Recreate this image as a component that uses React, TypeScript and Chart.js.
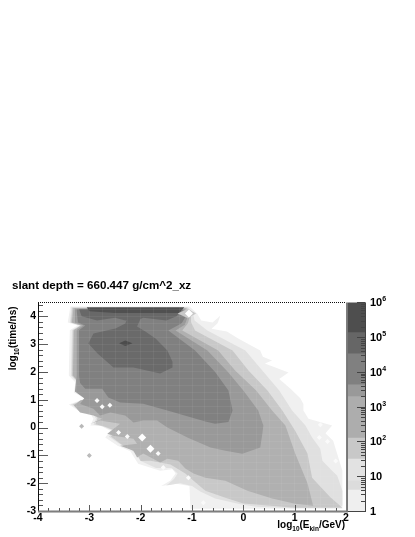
import React, { useEffect, useRef } from "react";
import { Chart, registerables } from "chart.js";

Chart.register(...registerables);

type P = [number, number];

const titleText = "slant depth = 660.447 g/cm^2_xz";
const xRange = [-4, 2];
const yRange = [-3, 4.5];
const xMajor = [-4, -3, -2, -1, 0, 1, 2];
const yMajor = [-3, -2, -1, 0, 1, 2, 3, 4];
const xGridValues = [-4, -3.75, -3.5, -3.25, -3, -2.75, -2.5, -2.25, -2, -1.75, -1.5, -1.25, -1, -0.75, -0.5, -0.25, 0, 0.25, 0.5, 0.75, 1, 1.25, 1.5, 1.75, 2];
const yGridValues = [-3, -2.75, -2.5, -2.25, -2, -1.75, -1.5, -1.25, -1, -0.75, -0.5, -0.25, 0, 0.25, 0.5, 0.75, 1, 1.25, 1.5, 1.75, 2, 2.25, 2.5, 2.75, 3, 3.25, 3.5, 3.75, 4, 4.25, 4.5];
const xMinor = [-3.8, -3.6, -3.4, -3.2, -2.8, -2.6, -2.4, -2.2, -1.8, -1.6, -1.4, -1.2, -0.8, -0.6, -0.4, -0.2, 0.2, 0.4, 0.6, 0.8, 1.2, 1.4, 1.6, 1.8];
const yMinor = [-2.8, -2.6, -2.4, -2.2, -1.8, -1.6, -1.4, -1.2, -0.8, -0.6, -0.4, -0.2, 0.2, 0.4, 0.6, 0.8, 1.2, 1.4, 1.6, 1.8, 2.2, 2.4, 2.6, 2.8, 3.2, 3.4, 3.6, 3.8, 4.2, 4.4];

const contourF0: P[] = [[-3.37,4.35],[-1.05,4.35],[-0.9,4.1],[-0.82,3.85],[-0.6,3.78],[-0.45,4.02],[-0.5,3.75],[-0.62,3.55],[-0.32,3.45],[-0.1,3.2],[0.33,2.77],[0.38,2.55],[0.56,2.41],[0.42,2.3],[0.88,1.98],[0.7,1.75],[0.92,1.4],[1.11,1.05],[1.17,0.85],[1.17,0.61],[1.27,0.32],[1.73,0.07],[1.6,-0.2],[1.75,-0.47],[1.87,-1.19],[1.93,-1.55],[1.93,-2.92],[-1.03,-2.92],[-1.05,-2.1],[-1.3,-2.02],[-1.6,-2.1],[-1.42,-1.9],[-1.32,-1.65],[-1.38,-1.5],[-1.62,-1.55],[-2.05,-1.3],[-2.15,-1.0],[-2.2,-0.85],[-2.45,-0.65],[-2.69,-0.36],[-2.59,-0.11],[-2.79,0.07],[-2.98,0.07],[-2.92,0.32],[-2.98,0.5],[-3.22,0.61],[-3.4,0.83],[-3.08,1.04],[-3.3,1.26],[-3.27,1.62],[-3.4,1.87],[-3.38,3.5],[-3.23,3.67],[-3.42,3.78]];
const contourE0: P[] = [[-3.35,4.33],[-1.08,4.33],[-0.98,4.1],[-0.95,3.85],[-0.7,3.49],[0.04,2.77],[0.37,2.05],[0.7,1.33],[0.95,0.61],[1.21,0.07],[1.34,-0.36],[1.5,-0.76],[1.54,-1.19],[1.73,-1.55],[1.83,-1.73],[1.93,-2.27],[1.93,-2.81],[1.0,-2.9],[0.25,-2.85],[-0.06,-2.76],[-0.55,-2.55],[-0.84,-2.3],[-1.0,-2.1],[-1.23,-2.0],[-1.5,-2.08],[-1.35,-1.85],[-1.28,-1.65],[-1.4,-1.45],[-1.7,-1.45],[-2.0,-1.2],[-2.1,-0.95],[-2.2,-0.78],[-2.4,-0.6],[-2.62,-0.33],[-2.52,-0.12],[-2.75,0.05],[-2.92,0.1],[-2.87,0.33],[-2.95,0.55],[-3.2,0.65],[-3.36,0.83],[-3.05,1.04],[-3.26,1.26],[-3.23,1.62],[-3.36,1.87],[-3.34,3.5],[-3.19,3.67],[-3.38,3.78]];
const contourC8: P[] = [[-3.33,4.31],[-1.1,4.31],[-1.02,4.05],[-1.02,3.8],[-0.94,3.49],[-0.21,2.77],[0.1,2.05],[0.47,1.33],[0.76,0.61],[1.01,-0.11],[1.25,-0.93],[1.34,-1.8],[1.69,-2.5],[1.93,-2.88],[1.01,-2.88],[0,-2.73],[-0.35,-2.52],[-0.74,-2.27],[-0.97,-1.91],[-1.13,-1.65],[-1.42,-1.33],[-1.81,-1.19],[-2.0,-1.2],[-2.08,-0.92],[-2.17,-0.8],[-2.38,-0.6],[-2.58,-0.32],[-2.48,-0.12],[-2.72,0.05],[-2.88,0.12],[-2.84,0.34],[-2.92,0.57],[-3.18,0.67],[-3.32,0.83],[-3.03,1.04],[-3.24,1.26],[-3.21,1.62],[-3.34,1.87],[-3.32,3.5],[-3.17,3.67],[-3.36,3.78]];
const contourB0: P[] = [[-3.31,4.29],[-1.12,4.29],[-1.04,4.0],[-1.08,3.75],[-1.19,3.49],[-0.49,2.77],[-0.16,2.05],[0.25,1.33],[0.56,0.61],[0.82,0.07],[1.01,-0.93],[1.25,-2.0],[1.36,-2.81],[1.01,-2.74],[0.56,-2.55],[0.08,-2.27],[-0.35,-1.91],[-0.74,-1.8],[-0.97,-1.65],[-1.13,-1.47],[-1.27,-1.19],[-1.48,-1.12],[-1.62,-1.26],[-1.95,-0.93],[-2.07,-1.08],[-2.14,-0.83],[-2.4,-0.65],[-2.07,-0.58],[-2.14,-0.4],[-2.53,-0.29],[-2.65,-0.22],[-2.4,0.14],[-2.79,0.25],[-2.98,0.14],[-2.75,0.32],[-2.92,0.43],[-3.18,0.54],[-3.3,0.79],[-3.18,0.97],[-3.05,1.04],[-3.22,1.26],[-3.2,1.62],[-3.32,1.87],[-3.3,3.5],[-3.16,3.67],[-3.34,3.78]];
const contourA0: P[] = [[-3.28,4.27],[-1.15,4.27],[-1.08,4.0],[-1.14,3.7],[-1.32,3.49],[-0.7,2.77],[-0.3,2.0],[0,1.33],[0.29,0.61],[0.39,0.07],[0.37,-0.22],[0.33,-0.72],[-0.02,-0.94],[-0.35,-0.83],[-0.64,-0.72],[-1.09,-0.36],[-1.48,0],[-1.68,0.25],[-1.95,0.25],[-2.14,0.18],[-2.3,0.43],[-2.59,0.54],[-2.79,0.43],[-2.92,0.68],[-3.18,0.85],[-3.1,1.05],[-3.28,1.3],[-3.25,1.87],[-3.25,3.5],[-3.12,3.67],[-3.28,3.78]];
const contour80: P[] = [[-3.25,4.25],[-1.18,4.25],[-1.12,4.0],[-1.2,3.75],[-1.46,3.49],[-0.94,2.77],[-0.55,2.0],[-0.29,1.33],[-0.21,0.61],[-0.29,0.2],[-0.55,0.14],[-0.74,0.22],[-1.48,0.61],[-1.95,0.86],[-2.4,0.9],[-2.63,1.08],[-2.75,1.4],[-3.08,1.4],[-3.18,1.6],[-3.2,1.85],[-3.2,3.5],[-3.08,3.67],[-3.22,3.78]];
const contourCentre: P[] = [[-3.02,3.02],[-2.92,3.38],[-2.49,3.56],[-2.3,3.74],[-2.25,3.95],[-2.0,3.92],[-2.07,3.63],[-1.91,3.45],[-1.71,3.2],[-1.48,2.77],[-1.38,2.37],[-1.38,2.16],[-1.62,1.94],[-2.14,2.16],[-2.53,2.16],[-2.84,2.66]];
const contourTop: P[] = [[-3.2,4.25],[-1.2,4.25],[-1.3,4.0],[-1.5,3.85],[-1.95,3.95],[-2.0,3.9],[-2.3,3.85],[-2.5,3.95],[-2.85,3.85],[-3.15,4.0]];
const contourPeak: P[] = [[-3.05,4.33],[-1.15,4.33],[-1.25,4.12],[-1.6,4.12],[-2.5,4.12],[-3.0,4.18]];
const contourSpot: P[] = [[-2.42,3.03],[-2.3,3.13],[-2.16,3.03],[-2.3,2.93]];
const contourHalo: P[] = [[-1.28,4.1],[-1.08,4.27],[-0.92,4.1],[-1.08,3.93]];

const whiteHoles: P[] = [[-2.85,0.97],[-2.75,0.75],[-2.6,0.8],[-2.43,-0.18],[-2.26,-0.32],[-1.66,-0.93],[-1.56,-1.44],[-1.07,-1.8],[-0.78,-2.7],[1.5,0.1],[1.48,-0.36],[1.64,-0.5],[1.8,-1.2]];
const largeHoles: P[] = [[-1.97,-0.36],[-1.81,-0.76],[-1.06,4.1]];
const greyDots: P[] = [[-3.15,0.05],[-3,-1]];

const levels: { points: P[]; color: string }[] = [
  { points: contourF0, color: "#f0f0f0" },
  { points: contourE0, color: "#e0e0e0" },
  { points: contourC8, color: "#c8c8c8" },
  { points: contourB0, color: "#b0b0b0" },
  { points: contourA0, color: "#999999" },
  { points: contour80, color: "#808080" },
  { points: contourCentre, color: "#6a6a6a" },
  { points: contourTop, color: "#686868" },
  { points: contourPeak, color: "#505050" },
  { points: contourSpot, color: "#4c4c4c" },
  { points: contourHalo, color: "#c8c8c8" },
];

const colorBands: [number, number][] = [[1, 4], [4, 7.3], [7.3, 31], [31, 126], [126, 1950], [1950, 4270], [4270, 33000], [33000, 135000], [135000, 1000000]];
const colorBandColors = ["#efefef", "#dcdcdc", "#e2e2e2", "#c8c8c8", "#adadad", "#999999", "#808080", "#666666", "#4e4e4e"];
const colorMajor = [1, 10, 100, 1000, 10000, 100000, 1000000];
const colorMinor = [2,3,4,5,6,7,8,9,20,30,40,50,60,70,80,90,200,300,400,500,600,700,800,900,2000,3000,4000,5000,6000,7000,8000,9000,20000,30000,40000,50000,60000,70000,80000,90000,200000,300000,400000,500000,600000,700000,800000,900000];
const colorLabels: [string, string][] = [["1", ""], ["10", ""], ["10", "2"], ["10", "3"], ["10", "4"], ["10", "5"], ["10", "6"]];

const FONT = "'Liberation Sans', Arial, sans-serif";

const framePlugin = {
  id: "rootFrame",
  afterDatasetsDraw(chart: any) {
    const { ctx, chartArea: a, scales } = chart;
    const x = scales.x, y = scales.y;
    ctx.save();
    ctx.strokeStyle = "#555";
    ctx.lineWidth = 1;
    ctx.beginPath();
    for (const v of xMajor) { const p = Math.round(x.getPixelForValue(v)) + 0.5; ctx.moveTo(p, a.bottom); ctx.lineTo(p, a.bottom - 6); }
    for (const v of xMinor) { const p = Math.round(x.getPixelForValue(v)) + 0.5; ctx.moveTo(p, a.bottom); ctx.lineTo(p, a.bottom - 3); }
    for (const v of yMajor) { const p = Math.round(y.getPixelForValue(v)) + 0.5; ctx.moveTo(a.left, p); ctx.lineTo(a.left + 10, p); }
    for (const v of yMinor) { const p = Math.round(y.getPixelForValue(v)) + 0.5; ctx.moveTo(a.left, p); ctx.lineTo(a.left + 5, p); }
    ctx.stroke();
    ctx.strokeStyle = "#000";
    ctx.beginPath(); ctx.moveTo(a.left + 0.5, a.top); ctx.lineTo(a.left + 0.5, a.bottom); ctx.stroke();
    ctx.setLineDash([1, 1]);
    ctx.beginPath(); ctx.moveTo(a.left, Math.round(a.top) + 0.5); ctx.lineTo(a.right, Math.round(a.top) + 0.5); ctx.stroke();
    ctx.setLineDash([]);
    ctx.strokeStyle = "#777";
    ctx.lineWidth = 2;
    ctx.beginPath(); ctx.moveTo(a.left, a.bottom + 0.5); ctx.lineTo(a.right + 1, a.bottom + 0.5); ctx.lineTo(a.right + 1, a.top); ctx.stroke();
    ctx.restore();
  },
  afterDraw(chart: any) {
    const { ctx, chartArea: a } = chart;
    ctx.save();
    ctx.fillStyle = "#000";
    ctx.textBaseline = "alphabetic";
    const xParts: [string, boolean][] = [["log", false], ["10", true], ["(E", false], ["kin", true], ["/GeV)", false]];
    const width = (parts: [string, boolean][]) => parts.reduce((w, [t, sub]) => {
      ctx.font = `bold ${sub ? 6.5 : 10}px ${FONT}`;
      return w + ctx.measureText(t).width;
    }, 0);
    const run = (parts: [string, boolean][], sx: number, sy: number) => {
      let cx = sx;
      for (const [t, sub] of parts) {
        ctx.font = `bold ${sub ? 6.5 : 10}px ${FONT}`;
        ctx.fillText(t, cx, sy + (sub ? 3 : 0));
        cx += ctx.measureText(t).width;
      }
    };
    ctx.textAlign = "left";
    run(xParts, a.right - 1 - width(xParts), 528);
    const yParts: [string, boolean][] = [["log", false], ["10", true], ["(time/ns)", false]];
    ctx.translate(16, a.top + 4);
    ctx.rotate(-Math.PI / 2);
    run(yParts, -width(yParts), 0);
    ctx.restore();
  },
};

const colorPlugin = {
  id: "colorAxis",
  afterDatasetsDraw(chart: any) {
    const { ctx, chartArea: a, scales } = chart;
    const y = scales.y;
    ctx.save();
    ctx.strokeStyle = "#444";
    ctx.lineWidth = 1;
    ctx.beginPath();
    ctx.moveTo(a.right + 0.5, a.top); ctx.lineTo(a.right + 0.5, a.bottom + 1);
    ctx.moveTo(a.left, a.bottom + 0.5); ctx.lineTo(a.right, a.bottom + 0.5);
    for (const v of colorMajor) { const p = Math.round(y.getPixelForValue(v)) + 0.5; ctx.moveTo(a.right, p); ctx.lineTo(a.right - 8, p); }
    for (const v of colorMinor) { const p = Math.round(y.getPixelForValue(v)) + 0.5; ctx.moveTo(a.right, p); ctx.lineTo(a.right - 4, p); }
    ctx.stroke();
    ctx.fillStyle = "#000";
    ctx.textAlign = "left";
    ctx.textBaseline = "alphabetic";
    colorMajor.forEach((v, i) => {
      const p = y.getPixelForValue(v);
      const [base, exp] = colorLabels[i];
      const lx = a.right + 5;
      ctx.font = `bold 11px ${FONT}`;
      ctx.fillText(base, lx, p + 4);
      if (exp) {
        const w = ctx.measureText(base).width;
        ctx.font = `bold 7px ${FONT}`;
        ctx.fillText(exp, lx + w, p - 1);
      }
    });
    ctx.restore();
  },
};

export default function App() {
  const mainRef = useRef<HTMLCanvasElement>(null);
  const barRef = useRef<HTMLCanvasElement>(null);

  useEffect(() => {
    const n = levels.length;
    const contourSets: any[] = levels.map((l, i) => ({
      type: "scatter",
      label: `level ${i + 1}`,
      data: l.points.map(([x, y]) => ({ x, y })),
      showLine: true,
      fill: "shape",
      backgroundColor: l.color,
      borderColor: l.color,
      borderWidth: 0,
      pointRadius: 0,
      tension: 0,
      order: n - i + 5,
    }));
    const holeSet = (pts: P[], color: string, radius: number, order: number) => ({
      type: "scatter",
      label: "holes",
      data: pts.map(([x, y]) => ({ x, y })),
      showLine: false,
      pointStyle: "rectRot",
      pointRadius: radius,
      pointBorderWidth: 0,
      pointBackgroundColor: color,
      backgroundColor: color,
      order,
    });
    const main = new Chart(mainRef.current!, {
      type: "scatter",
      data: {
        datasets: [
          ...contourSets,
          holeSet(whiteHoles, "#fafafa", 2.5, 3),
          holeSet(largeHoles, "#ffffff", 4, 2),
          holeSet(greyDots, "#b8b8b8", 2.5, 1),
        ],
      },
      options: {
        animation: false,
        responsive: false,
        events: [],
        layout: { padding: { left: 12, right: 69, top: 279, bottom: 0 } },
        plugins: {
          legend: { display: false },
          tooltip: { enabled: false },
          title: {
            display: true,
            text: titleText,
            align: "start",
            color: "#000",
            font: { family: FONT, size: 11.6, weight: "bold", lineHeight: 1.2 },
            padding: { top: 0, bottom: 9.5 },
          },
        },
        scales: {
          x: {
            type: "linear",
            min: xRange[0],
            max: xRange[1],
            border: { display: false },
            grid: { color: "rgba(255,255,255,0.055)", z: 1, drawTicks: false },
            afterBuildTicks: (s: any) => { s.ticks = xGridValues.map((value) => ({ value })); },
            afterFit: (s: any) => { s.height = 26; },
            ticks: {
              autoSkip: false,
              maxRotation: 0,
              padding: 1,
              color: "#000",
              font: { family: FONT, size: 10.5, weight: "bold" },
              callback: (v: any) => (Number.isInteger(v) ? String(v) : ""),
            },
          },
          y: {
            type: "linear",
            min: yRange[0],
            max: yRange[1],
            border: { display: false },
            grid: { color: "rgba(255,255,255,0.055)", z: 1, drawTicks: false },
            afterBuildTicks: (s: any) => { s.ticks = yGridValues.map((value) => ({ value })); },
            afterFit: (s: any) => { s.width = 26; },
            ticks: {
              autoSkip: false,
              padding: 2,
              color: "#000",
              font: { family: FONT, size: 10.5, weight: "bold" },
              callback: (v: any) => (Number.isInteger(v) && v <= 4 ? String(v) : ""),
            },
          },
        },
      } as any,
      plugins: [framePlugin as any],
    });

    const bar = new Chart(barRef.current!, {
      type: "bar",
      data: {
        labels: ["z"],
        datasets: colorBands.map((b, i) => ({
          label: `band ${i + 1}`,
          data: [b as any],
          backgroundColor: colorBandColors[i],
          borderWidth: 0,
          grouped: false,
          barPercentage: 1,
          categoryPercentage: 1,
        })),
      },
      options: {
        animation: false,
        responsive: false,
        events: [],
        layout: { padding: { left: 0, right: 50, top: 12.4, bottom: 26 } },
        plugins: { legend: { display: false }, tooltip: { enabled: false }, title: { display: false } },
        scales: {
          x: { display: false },
          y: {
            type: "logarithmic",
            min: 1,
            max: 1000000,
            display: false,
          },
        },
      } as any,
      plugins: [colorPlugin as any],
    });

    return () => { main.destroy(); bar.destroy(); };
  }, []);

  return (
    <div style={{ position: "absolute", left: 0, top: 0, width: 415, height: 537, background: "#fff", overflow: "hidden" }}>
      <canvas ref={mainRef} width={415} height={537} style={{ position: "absolute", left: 0, top: 0, filter: "blur(0.6px)" }} />
      <canvas ref={barRef} width={67} height={247} style={{ position: "absolute", left: 348, top: 290, filter: "blur(0.4px)" }} />
    </div>
  );
}
